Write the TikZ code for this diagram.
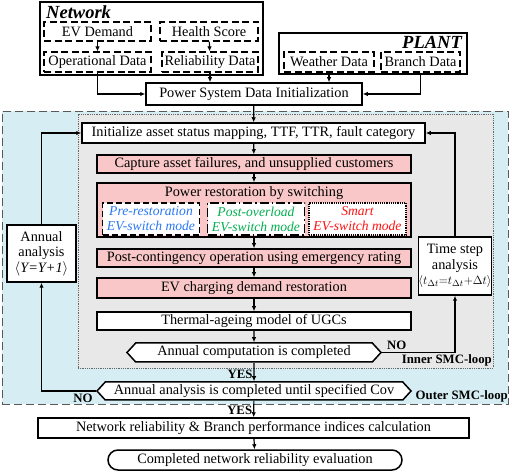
\documentclass[tikz,border=0pt]{standalone}
\usepackage{fontspec}
\setmainfont{Liberation Serif}
\usetikzlibrary{arrows.meta,shapes.symbols,shapes.misc,positioning}
\definecolor{pinkfill}{RGB}{249,199,199}
\definecolor{outerblue}{RGB}{214,238,243}
\definecolor{innergrey}{RGB}{232,232,232}
\definecolor{modeblue}{RGB}{40,120,245}
\definecolor{modegreen}{RGB}{0,176,80}
\definecolor{modered}{RGB}{255,20,20}

\tikzset{
  stepbox/.style={draw,line width=1.5pt,fill=white,inner sep=1pt,minimum height=19,font=\mainsize},
  redbox/.style={stepbox,fill=pinkfill},
  databox/.style={draw,line width=1.2pt,dash pattern=on 7pt off 3.5pt,fill=white,minimum height=20,inner sep=1pt,font=\mainsize},
  groupbox/.style={draw,line width=1.6pt,fill=white,inner sep=0pt},
  modebox/.style={fill=white,line width=1.5pt,minimum width=97,minimum height=32,inner sep=0pt,align=center,font=\modesize\itshape},
  flow/.style={line width=1.2pt,-{Latex[length=5pt,width=4.5pt]}},
  decision/.style={stepbox,signal,signal to=west and east,signal pointer angle=95,inner xsep=6pt},
  tag/.style={font=\tagsize\bfseries,inner sep=0pt}
}
\newcommand{\mainsize}{\fontsize{14.3}{15.5}\selectfont}
\newcommand{\modesize}{\fontsize{13.6}{15}\selectfont}
\newcommand{\tagsize}{\fontsize{12.8}{14}\selectfont}
\newcommand{\titlesize}{\fontsize{18.5}{19}\selectfont}

\begin{document}
\begin{tikzpicture}[x=1pt,y=-1pt]
  \useasboundingbox (0,0) rectangle (512,473);
  % loop backgrounds
  \node[draw=black!65,fill=outerblue,line width=0.9pt,dash pattern=on 8pt off 4pt,minimum width=506,minimum height=293,inner sep=0pt] (outer) at (255,257.5) {};
  \node[draw=black!60,fill=innergrey,line width=0.8pt,densely dotted,minimum width=415,minimum height=254,inner sep=0pt] (inner) at (285.5,241) {};
  \node[tag,anchor=south east] (innertag) at (492,366) {Inner SMC-loop};
  \node[tag,anchor=south east] (outertag) at (508,402) {Outer SMC-loop};

  % data sources
  \node[groupbox,minimum width=223,minimum height=73] (net) at (151.5,38.5) {};
  \node[anchor=west,font=\titlesize\bfseries\itshape,inner sep=0pt] (nettitle) at (46,12) {Network};
  \node[databox,minimum width=107,minimum height=19] (evd) at (97.5,31.5) {EV Demand};
  \node[databox,minimum width=98,minimum height=19] (hs) at (209,31.5) {Health Score};
  \node[databox,minimum width=107] (opd) at (97.5,62) {Operational Data};
  \node[databox,minimum width=96] (rel) at (210,62) {Reliability Data};
  \node[groupbox,minimum width=188,minimum height=41] (plant) at (373,53.5) {};
  \node[anchor=east,font=\titlesize\bfseries\itshape,inner sep=0pt] (planttitle) at (462,42) {PLANT};
  \node[databox,minimum width=90] (wd) at (329,62) {Weather Data};
  \node[databox,minimum width=79] (bd) at (420.5,62) {Branch Data};
  \node[stepbox,minimum width=216,minimum height=22] (psdi) at (254,94) {Power System Data Initialization};

  % main flow
  \node[stepbox,minimum width=343,minimum height=20] (init) at (253.5,133) {Initialize asset status mapping, TTF, TTR, fault category};
  \node[redbox,minimum width=314,minimum height=18] (cap) at (254,164) {Capture asset failures, and unsupplied customers};
  \node[redbox,minimum width=314,minimum height=54] (pr) at (254,210) {};
  \node[font=\mainsize,inner sep=0pt] (prtitle) at (254,193) {Power restoration by switching};
  \node[modebox,draw,dash pattern=on 6pt off 3pt,text=modeblue] (pre) at (151,219) {Pre-restoration\\EV-switch mode};
  \node[modebox,draw,dash pattern=on 9pt off 3pt on 1.5pt off 3pt,text=modegreen] (post) at (256,219) {Post-overload\\EV-switch mode};
  \node[modebox,draw,line width=1.2pt,densely dotted,text=modered] (smart) at (357.5,219) {Smart\\EV-switch mode};
  \node[redbox,minimum width=314,minimum height=18] (pc) at (254,258) {Post-contingency operation using emergency rating};
  \node[redbox,minimum width=314,minimum height=20] (evc) at (254,288) {EV charging demand restoration};
  \node[stepbox,minimum width=314,minimum height=18] (therm) at (254,321) {Thermal-ageing model of UGCs};
  \node[decision,minimum width=254] (acomp) at (254,352.5) {Annual computation is completed};
  \node[decision,minimum width=314,minimum height=18] (acov) at (254,391) {Annual analysis is completed until specified Cov};
  \node[stepbox,minimum width=431,minimum height=20] (nrel) at (253.5,428) {Network reliability \& Branch performance indices calculation};
  \node[stepbox,rounded rectangle,minimum width=296,minimum height=20] (done) at (255,460) {Completed network reliability evaluation};

  % loop counters
  \node[stepbox,minimum width=69,minimum height=57,align=center] (annual) at (41.5,253.5) {Annual\\analysis\\$\langle$\textit{Y=Y+1}$\rangle$};
  \node[stepbox,minimum width=66,minimum height=58,align=center,inner sep=0pt] (tstep) at (455,266) {Time step\\analysis\\{\fontsize{12.5}{14}\selectfont$\langle t_{\Delta t}{=}t_{\Delta t}{+}\Delta t\rangle$}};

  % connectors
  \draw[flow] (evd) -- (opd);
  \draw[flow] (hs) -- (rel);
  \draw[flow] (opd.south) |- (psdi.west);
  \draw[flow] (rel.south) -- (rel.south |- psdi.north);
  \draw[flow] (wd.south) -- (wd.south |- psdi.north);
  \draw[flow] (bd.south) |- (psdi.east);
  \draw[flow] (psdi) -- (init);
  \draw[flow] (init) -- (cap);
  \draw[flow] (cap) -- (pr);
  \draw[flow] (pr) -- (pc);
  \draw[flow] (pc) -- (evc);
  \draw[flow] (evc) -- (therm);
  \draw[flow] (therm) -- (acomp);
  \draw[flow] (acomp) -- node[tag,pos=0.6,left=1pt] (yes1) {YES} (acov);
  \draw[flow] (acov) -- node[tag,pos=0.6,left=1pt] (yes2) {YES} (nrel);
  \draw[flow] (nrel) -- (done);
  \draw[flow] (acomp.east) -| node[tag,pos=0.1,above=2pt] (no1) {NO} (tstep.south);
  \draw[flow] (tstep.north) |- (init.east);
  \draw[flow] (acov.west) -| node[tag,pos=0.12,below=2pt] (no2) {NO} (annual.south);
  \draw[flow] (annual.north) |- (init.west);
\end{tikzpicture}
\end{document}
